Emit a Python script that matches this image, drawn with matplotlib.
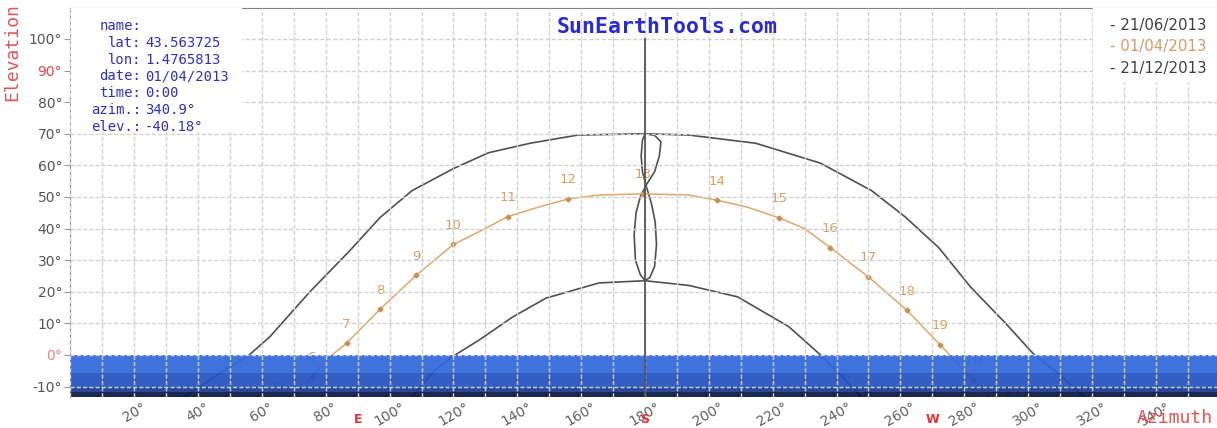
import matplotlib.pyplot as plt
from matplotlib.patches import Rectangle

# sun paths (azimuth deg, elevation deg)
summer_az = [33, 40.6, 48, 56, 62.5, 75, 87.5, 97, 107, 120, 131, 144, 159, 180, 193.75, 214.7, 235, 251, 261.5, 272, 282, 293, 302, 308, 318]
summer_el = [-15, -10, -5, 0, 5.8, 20, 33, 43.5, 52, 59, 64, 67, 69.6, 70, 69.6, 67, 60.7, 52, 43.7, 34, 21.5, 10, 0, -4.7, -13.5]
winter_az = [107, 114, 119.7, 128, 138.5, 149, 165.6, 180, 193.75, 209, 225, 235, 240, 248]
winter_el = [-13.5, -5, -0.5, 4.7, 12, 18, 22.8, 23.5, 22, 18.4, 9, 0, -5, -13.5]
april_az = [62, 69.7, 75.6, 80, 86.5, 97, 108.4, 120, 128, 137, 147, 156, 165.6, 179.5, 193.75, 202.5, 212, 222, 230, 238, 250, 262, 272.5, 282.8, 288, 296]
april_el = [-18, -13.4, -6.9, -1.6, 3.7, 14.5, 25.3, 35, 39, 43.8, 46.9, 49.4, 50.6, 51, 50.6, 49, 46.8, 43.4, 40, 34, 24.7, 14.2, 3.2, -7.9, -13.4, -18]
hours = [5, 6, 7, 8, 9, 10, 11, 12, 13, 14, 15, 16, 17, 18, 19, 20, 21]
hour_az = [64.4, 75.6, 86.5, 97, 108.4, 120, 137, 156, 179.5, 202.5, 222, 238, 250, 262, 272.5, 282.8, 295.4]
hour_el = [-16.5, -6.9, 3.7, 14.5, 25.3, 35, 43.8, 49.4, 51, 49, 43.4, 34, 24.7, 14.2, 3.2, -7.9, -18]
# analemma at az 180
ana_az = [180, 183, 185, 184.5, 183, 180.5, 178.5, 177.2, 176.6, 177, 178.5, 180, 181.5, 183, 183.6, 183.2, 182, 180.5, 179.2, 178.8, 179.2, 180]
ana_el = [70, 69.5, 67.5, 63, 58, 54, 50, 45, 38, 30, 25.5, 23.5, 24.5, 28, 35, 42, 48, 53, 58, 63, 68, 70]
meridian_az, meridian_top = 180, 100.3

legend_dates = ['21/06/2013', '01/04/2013', '21/12/2013']
info_keys = ['name:', 'lat:', 'lon:', 'date:', 'time:', 'azim.:', 'elev.:']
info_vals = ['', '43.563725', '1.4765813', '01/04/2013', '0:00', '340.9°', '-40.18°']
x_ticks = list(range(20, 341, 20))
y_ticks = list(range(-10, 101, 10))
cardinals = {'E': 90, 'S': 180, 'W': 270}

dark, orange, red, blue_txt = '#505050', '#e0a868', '#e25555', '#3030c0'
mono = 'DejaVu Sans Mono'

fig = plt.figure(figsize=(12.17, 4.28), dpi=100)
ax = fig.add_axes([0.0579, 0.0724, 0.9421, 0.9089])
ax.set_xlim(0, 359.2)
ax.set_ylim(-13.3, 109.8)

# horizon bands
for lo, hi, c in [(-5.7, 0, '#2f68dc'), (-10, -5.7, '#2352c0'), (-11.6, -10, '#173a94'), (-13.3, -11.6, '#0a1840')]:
    ax.axhspan(lo, hi, color=c, alpha=0.93, lw=0, zorder=2.2)

ax.plot(summer_az, summer_el, color=dark, lw=1.2, zorder=2)
ax.plot(winter_az, winter_el, color=dark, lw=1.2, zorder=2)
ax.plot(ana_az, ana_el, color=dark, lw=1.2, zorder=2)
ax.vlines(meridian_az, -20, meridian_top, color='#555555', lw=1.3, zorder=2.6)
ax.plot(april_az, april_el, color=orange, lw=1.1, zorder=2)
ax.plot(hour_az, hour_el, ls='none', marker='D', ms=2.5, color='#c89050', zorder=2.1)
for h, a, e in zip(hours, hour_az, hour_el):
    ax.annotate(str(h), (a, e), xytext=(0, 13.7), textcoords='offset points', ha='center', va='center',
                fontsize=9.5, color='#d8a060', annotation_clip=False, zorder=2.1)

ax.set_xticks(x_ticks)
ax.set_xticklabels([f'{t}°' for t in x_ticks], rotation=30, ha='center')
ax.set_xticks(range(0, 360, 10), minor=True)
ax.set_yticks(y_ticks)
ax.set_yticklabels([f'{t}°' for t in y_ticks])
ax.tick_params(axis='x', which='both', length=0, labelsize=10, labelcolor='#606060', pad=2)
ax.tick_params(axis='y', length=4, color='#999999', labelsize=10, labelcolor='#555555', pad=2)
for lab, t in zip(ax.get_yticklabels(), y_ticks):
    if t == 90: lab.set_color('#e04848')
    if t == 0: lab.set_color('#f08080')
ax.set_axisbelow(False)
ax.grid(True, which='both', color='#d2d2d2', lw=1, ls=(0, (3, 1.5)), zorder=2.5)
for s in ['right', 'bottom']: ax.spines[s].set_visible(False)
for s in ['left', 'top']: ax.spines[s].set_color('#808080')

# info box
ax.add_patch(Rectangle((0.3, 70.8), 53, 39, color='white', zorder=3))
for i, (k, v) in enumerate(zip(info_keys, info_vals)):
    y = 104.1 - i * 5.3
    ax.text(22.1, y, k, ha='right', va='center', family=mono, fontsize=10, color=blue_txt, zorder=4)
    ax.text(23.3, y, v, ha='left', va='center', family=mono, fontsize=10, color=blue_txt, zorder=4)

# legend box
ax.add_patch(Rectangle((320.5, 86.8), 40, 24, color='white', zorder=3))
for i, (d, c) in enumerate(zip(legend_dates, ['#404040', '#d89868', '#404040'])):
    ax.text(356, 104.4 - i * 6.8, '- ' + d, ha='right', va='center', fontsize=10.8, color=c, zorder=4)

ax.text(186.9, 103.8, 'SunEarthTools.com', ha='center', va='center', family=mono, fontsize=15.5,
        fontweight='bold', color='#2a2ad0', zorder=4)

for k, a in cardinals.items():
    ax.text(a, -0.059, k, transform=ax.get_xaxis_transform(), ha='center', va='center',
            fontsize=9, fontweight='bold', color='#e83030')
fig.text(0.9967, 0.0234, 'Azimuth', ha='right', va='center', family=mono, fontsize=13, color=red)
fig.text(0.0099, 0.8785, 'Elevation', ha='center', va='center', rotation=90, family=mono, fontsize=13, color=red)

fig.savefig('out.png', dpi=100)
